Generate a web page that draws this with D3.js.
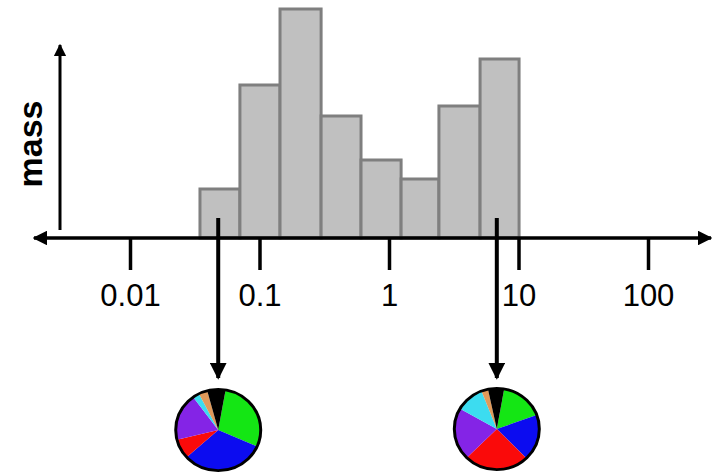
<!DOCTYPE html>
<html><head><meta charset="utf-8">
<script src="https://cdn.jsdelivr.net/npm/d3@7"></script>
<style>html,body{margin:0;padding:0;background:#fff;}svg{display:block;}</style>
</head><body>
<svg id="chart" width="719" height="475"></svg>
<script>
const binEdges = [0.0347, 0.0706, 0.144, 0.299, 0.608, 1.24, 2.43, 5.05, 10.1];
const massValues = [49, 153, 229, 122, 78, 59, 132, 179];
const tickValues = [0.01, 0.1, 1, 10, 100];
const tickLabels = ["0.01", "0.1", "1", "10", "100"];
const arrowValues = [0.048, 6.8];
const sliceNames = ["green", "blue", "red", "purple", "cyan", "orange", "black"];
const sliceColors = ["#14e614", "#0c0cf0", "#fa0a0a", "#8424e6", "#3cdcf0", "#e09a5a", "#000000"];
const pieSmall = [104, 114, 28, 68, 9, 12, 25];
const pieLarge = [60, 66, 89, 75, 39, 9, 22];

const svg = d3.select("#chart");
const x = d3.scaleLog().domain([0.01, 100]).range([130, 648]);
const y = d3.scaleLinear().domain([0, 229]).range([238, 9]);
const axisY = y(0);

// bars
const bins = massValues.map((v, i) => ({x0: binEdges[i], x1: binEdges[i + 1], v}));
svg.append("g").selectAll("rect").data(bins).join("rect")
  .attr("x", d => x(d.x0)).attr("width", d => x(d.x1) - x(d.x0))
  .attr("y", d => y(d.v)).attr("height", d => y(0) - y(d.v))
  .attr("fill", "#c0c0c0").attr("stroke", "#7f7f7f").attr("stroke-width", 3);

// arrow markers
const defs = svg.append("defs");
defs.append("marker").attr("id", "ah").attr("viewBox", "0 0 10 10")
  .attr("refX", 9).attr("refY", 5).attr("markerWidth", 4.2).attr("markerHeight", 4.2)
  .attr("markerUnits", "strokeWidth").attr("orient", "auto")
  .append("path").attr("d", "M0,0 L10,5 L0,10 Z").attr("fill", "#000");

// x axis line with arrows both ends
svg.append("line").attr("x1", 34).attr("x2", 711).attr("y1", axisY).attr("y2", axisY)
  .attr("stroke", "#000").attr("stroke-width", 3.5)
  .attr("marker-end", "url(#ah)").attr("marker-start", "url(#ahs)");
defs.append("marker").attr("id", "ahs").attr("viewBox", "0 0 10 10")
  .attr("refX", 1).attr("refY", 5).attr("markerWidth", 4.2).attr("markerHeight", 4.2)
  .attr("markerUnits", "strokeWidth").attr("orient", "auto")
  .append("path").attr("d", "M10,0 L0,5 L10,10 Z").attr("fill", "#000");

// x axis ticks and labels via d3 axis
const axis = d3.axisBottom(x).tickValues(tickValues)
  .tickFormat((d, i) => tickLabels[i]).tickSize(32).tickPadding(14);
const ag = svg.append("g").attr("transform", `translate(0,${axisY})`).call(axis);
ag.select(".domain").remove();
ag.selectAll(".tick line").attr("stroke", "#000").attr("stroke-width", 3.5);
ag.selectAll(".tick text").attr("fill", "#000")
  .style("font-family", "'Liberation Sans', Arial, sans-serif").style("font-size", "31px");

// y arrow
svg.append("line").attr("x1", 60).attr("x2", 60).attr("y1", 230).attr("y2", 45)
  .attr("stroke", "#000").attr("stroke-width", 3)
  .attr("marker-end", "url(#ah)");

svg.append("text").attr("transform", "translate(42,144) rotate(-90)")
  .attr("text-anchor", "middle")
  .style("font-family", "'Liberation Sans', Arial, sans-serif")
  .style("font-size", "34px").style("font-weight", "bold").text("mass");

// vertical arrows down to pies
svg.append("g").selectAll("line").data(arrowValues).join("line")
  .attr("x1", d => x(d)).attr("x2", d => x(d)).attr("y1", 218).attr("y2", 378)
  .attr("stroke", "#000").attr("stroke-width", 4).attr("marker-end", "url(#ah)");

// pies
const pie = d3.pie().sort(null).startAngle(10 * Math.PI / 180).endAngle((370) * Math.PI / 180);
const pies = [{vals: pieSmall, v: arrowValues[0], cy: 430}, {vals: pieLarge, v: arrowValues[1], cy: 429}];
const rx = 44, ry = 42;
pies.forEach(p => {
  const g = svg.append("g").attr("transform", `translate(${x(p.v)},${p.cy}) scale(1,${ry / rx})`);
  const arc = d3.arc().innerRadius(0).outerRadius(rx - 1.5);
  g.selectAll("path").data(pie(p.vals)).join("path")
    .attr("d", arc).attr("fill", (d, i) => sliceColors[i]);
  g.append("circle").attr("r", rx - 1.5).attr("fill", "none").attr("stroke", "#000").attr("stroke-width", 3);
});
</script>
</body></html>
